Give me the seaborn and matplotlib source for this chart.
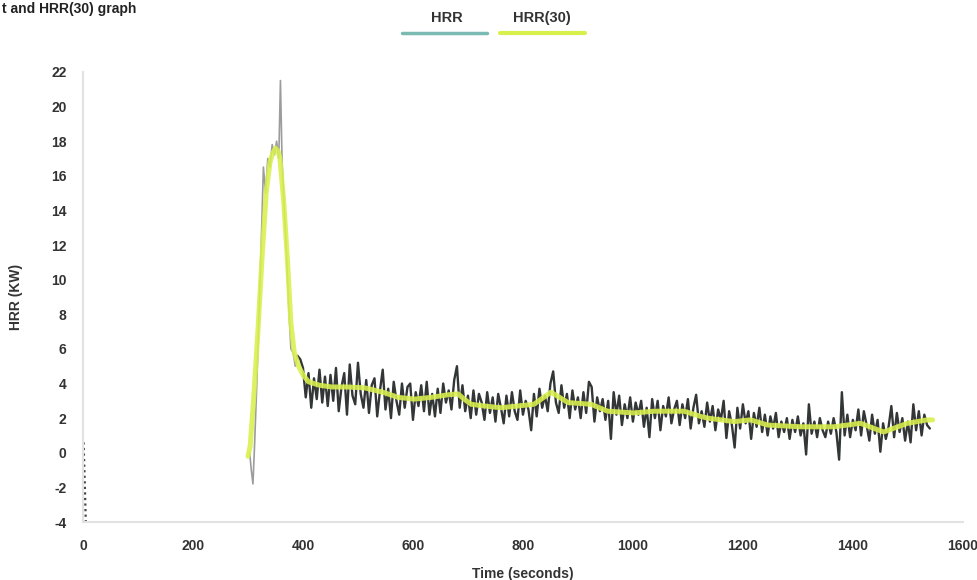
import numpy as np
import pandas as pd
import matplotlib
matplotlib.use("Agg")
import matplotlib.pyplot as plt
from matplotlib.lines import Line2D
import seaborn as sns

# ---------------- data ----------------
# early readings right at start of the test
t_start = [1, 1.5, 2, 2.5, 3, 3.5, 4, 4.5, 5]
hrr_start = [0.6, 0.0, -0.5, -1.0, -1.6, -2.2, -2.8, -3.4, -4.0]

# ignition peak
t_peak = [303, 306, 309, 312, 316, 320, 324, 328, 332, 336, 340, 344, 348,
          352, 356, 359, 362, 366, 370, 374, 378, 382, 386, 390]
hrr_peak = [0.0, -1.0, -1.8, 0.5, 4.0, 8.0, 12.0, 16.5, 15.0, 17.0, 16.5,
            17.8, 17.2, 18.0, 17.0, 21.5, 16.8, 14.0, 11.5, 8.5, 6.0, 5.8,
            5.0, 5.6]

# steady burning, 5 s readings from 395 s to 1540 s
t_tail_start = 395
t_tail_step = 5
hrr_tail = [
    5.4, 4.9, 3.2, 4.6, 2.6, 4.3, 3.1, 4.8, 2.9, 4.4,
    2.7, 4.5, 3.0, 4.9, 2.4, 3.8, 4.6, 2.2, 5.1, 3.3,
    2.8, 5.2, 3.4, 2.6, 4.2, 2.3, 3.9, 4.3, 2.1, 3.6,
    4.8, 2.5, 3.7, 2.0, 4.1, 3.0, 2.2, 4.0, 2.6, 3.8,
    4.0, 1.9, 3.5, 2.7, 3.9, 2.4, 4.1, 2.2, 3.4, 2.1,
    3.7, 2.3, 4.0, 2.9, 3.6, 2.5, 4.2, 5.0, 2.6, 3.9,
    2.4, 3.3, 2.0, 3.6, 2.2, 3.4, 2.9, 1.9, 3.5, 2.3,
    3.2, 1.8, 3.4, 2.6, 1.7, 3.3, 2.1, 3.5, 2.4, 1.9,
    3.6, 2.2, 3.0, 2.5, 1.3, 3.4, 2.1, 3.7, 2.6, 3.3,
    2.4, 4.0, 4.7, 2.9, 2.3, 3.9, 2.6, 3.4, 2.0, 3.6,
    2.5, 3.2, 2.0, 3.5, 2.3, 4.1, 3.8, 1.8, 3.2, 2.4,
    3.1, 1.9, 3.0, 0.8, 3.5, 2.2, 3.3, 1.6, 2.8, 2.0,
    3.2, 1.8, 2.9, 2.2, 3.0, 1.5, 2.6, 0.9, 3.1, 2.0,
    3.0, 1.3, 2.7, 2.1, 3.2, 1.7, 2.5, 3.0, 1.6, 2.8,
    2.0, 3.1, 1.4, 2.6, 3.35, 1.7, 2.4, 1.5, 2.9, 1.8,
    2.7, 1.3, 2.5, 1.9, 3.0, 0.85, 2.4, 1.6, 0.3, 2.6,
    1.4, 2.8, 1.7, 2.4, 0.8, 2.3, 1.5, 2.6, 1.2, 2.2,
    1.0, 2.1, 1.4, 2.3, 0.9, 1.8, 1.2, 2.0, 0.8, 1.9,
    1.2, 2.1, 1.0, 1.7, -0.1, 2.8, 1.1, 1.8, 0.9, 2.0,
    1.3, 0.9, 1.8, 1.1, 2.0, 1.2, -0.4, 3.5, 1.0, 2.2,
    0.9, 1.9, 1.3, 2.5, 1.0, 2.4, 1.6, 0.7, 2.2, 1.1,
    1.9, 0.06, 1.7, 0.8, 1.5, 2.7, 0.9, 2.3, 1.2, 2.0,
    0.7, 1.8, 0.6, 2.8, 1.3, 2.4, 1.0, 2.2, 1.6, 1.4,
]

# 30 s running average as drawn
t_avg = [300, 304, 310, 318, 325, 333, 340, 345, 350, 355, 358, 365, 372,
         378, 384, 392, 400, 410, 430, 452, 480, 512, 545, 573, 603, 633,
         664, 682, 693, 706, 730, 760, 790, 820, 851, 882, 924, 954, 1002,
         1038, 1093, 1123, 1136, 1184, 1214, 1245, 1305, 1365, 1414, 1456,
         1499, 1535, 1545]
hrr_avg = [-0.2, 0.4, 3.0, 7.0, 11.0, 15.0, 16.8, 17.3, 17.6, 17.4, 17.0,
           14.5, 11.0, 7.5, 5.8, 5.0, 4.5, 4.1, 3.9, 3.8, 3.8, 3.75, 3.5,
           3.2, 3.1, 3.2, 3.35, 3.4, 3.1, 2.8, 2.7, 2.6, 2.7, 2.8, 3.5, 2.9,
           2.8, 2.4, 2.3, 2.4, 2.4, 2.1, 2.0, 1.8, 1.9, 1.6, 1.5, 1.5, 1.7,
           1.2, 1.7, 1.9, 1.9]

x_ticks = [0, 200, 400, 600, 800, 1000, 1200, 1400, 1600]
y_ticks = [-4, -2, 0, 2, 4, 6, 8, 10, 12, 14, 16, 18, 20, 22]

# ---------------- build tables ----------------
t_tail = [t_tail_start + i * t_tail_step for i in range(len(hrr_tail))]
df_start = pd.DataFrame({"time": t_start, "HRR": hrr_start})
df_peak = pd.DataFrame({"time": t_peak, "HRR": hrr_peak})
df_tail = pd.DataFrame({"time": [t_peak[-1]] + t_tail,
                        "HRR": [hrr_peak[-1]] + hrr_tail})
df_avg = pd.DataFrame({"time": t_avg, "HRR(30)": hrr_avg})

# ---------------- plot ----------------
sns.set_theme(style="white")
plt.rcParams["font.family"] = ["Liberation Sans", "DejaVu Sans"]
plt.rcParams["axes.unicode_minus"] = False

fig = plt.figure(figsize=(9.77, 5.80), dpi=100)
ax = fig.add_axes([0.085, 0.10, 0.9005, 0.776])

hrr_color = "#333636"
avg_color = "#d9f04c"

sns.lineplot(data=df_start, x="time", y="HRR", ax=ax, color="#444444",
             lw=1.6, ls=(0, (1, 1.5)), zorder=2, legend=False)
sns.lineplot(data=df_peak, x="time", y="HRR", ax=ax, color="#9c9c9c",
             lw=1.2, zorder=2, legend=False)
sns.lineplot(data=df_tail, x="time", y="HRR", ax=ax, color=hrr_color,
             lw=1.7, zorder=2, legend=False)
sns.lineplot(data=df_avg, x="time", y="HRR(30)", ax=ax, color=avg_color,
             lw=3.6, zorder=3, alpha=0.88, legend=False)

ax.set_xlim(0, 1600)
ax.set_ylim(-4, 22)
ax.set_xticks(x_ticks)
ax.set_yticks(y_ticks)
ax.tick_params(axis="both", length=0, labelsize=10, colors="#333333", pad=12)
for lab in ax.get_xticklabels() + ax.get_yticklabels():
    lab.set_fontweight("bold")

ax.set_xlabel("Time (seconds)", fontsize=10, fontweight="bold",
              color="#333333", labelpad=10)
ax.set_ylabel("HRR (KW)", fontsize=10, fontweight="bold",
              color="#333333", labelpad=20)

for side in ["top", "right"]:
    ax.spines[side].set_visible(False)
ax.spines["left"].set_color("#e2e2e2")
ax.spines["bottom"].set_color("#e2e2e2")
ax.spines["left"].set_linewidth(1.5)
ax.spines["bottom"].set_linewidth(1.5)
ax.grid(False)

# legend: label above a coloured bar
fig.text(447 / 977, 1 - 18 / 580, "HRR", ha="center", va="center",
         fontsize=10.5, fontweight="bold", color="#333333")
fig.text(542 / 977, 1 - 18 / 580, "HRR(30)", ha="center", va="center",
         fontsize=10.5, fontweight="bold", color="#333333")
fig.add_artist(Line2D([402 / 977, 487 / 977], [1 - 33 / 580, 1 - 33 / 580],
                      color="#7bbab2", lw=2.5, transform=fig.transFigure))
fig.add_artist(Line2D([500 / 977, 585 / 977], [1 - 33 / 580, 1 - 33 / 580],
                      color=avg_color, lw=3.0, transform=fig.transFigure))

# caption fragment at the top-left edge
fig.text(0.002, 0.997, "t and HRR(30) graph", ha="left", va="top",
         fontsize=10, fontweight="bold", color="#222222")

fig.savefig("out.png", dpi=100)
